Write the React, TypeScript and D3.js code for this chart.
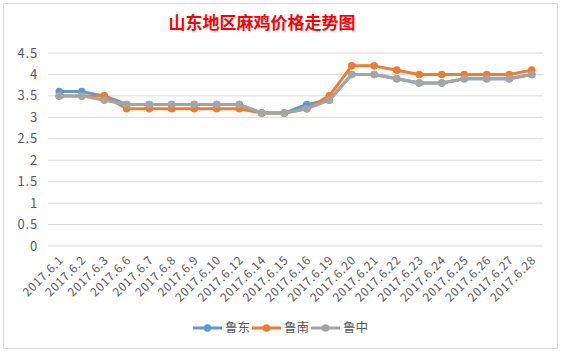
import React from "react";
import * as d3 from "d3";

// chart data
const dates = [
  "2017.6.1", "2017.6.2", "2017.6.3", "2017.6.6", "2017.6.7", "2017.6.8",
  "2017.6.9", "2017.6.10", "2017.6.12", "2017.6.14", "2017.6.15", "2017.6.16",
  "2017.6.19", "2017.6.20", "2017.6.21", "2017.6.22", "2017.6.23", "2017.6.24",
  "2017.6.25", "2017.6.26", "2017.6.27", "2017.6.28",
];
const ludong = [3.6, 3.6, 3.5, 3.3, 3.3, 3.3, 3.3, 3.3, 3.3, 3.1, 3.1, 3.3, 3.4, 4.0, 4.0, 3.9, 3.8, 3.8, 3.9, 3.9, 3.9, 4.0];
const lunan = [3.5, 3.5, 3.5, 3.2, 3.2, 3.2, 3.2, 3.2, 3.2, 3.1, 3.1, 3.2, 3.5, 4.2, 4.2, 4.1, 4.0, 4.0, 4.0, 4.0, 4.0, 4.1];
const luzhong = [3.5, 3.5, 3.4, 3.3, 3.3, 3.3, 3.3, 3.3, 3.3, 3.1, 3.1, 3.2, 3.4, 4.0, 4.0, 3.9, 3.8, 3.8, 3.9, 3.9, 3.9, 4.0];
const seriesNames = ["鲁东", "鲁南", "鲁中"];
const yTicks = [0, 0.5, 1, 1.5, 2, 2.5, 3, 3.5, 4, 4.5];

const colors = ["#5b9bd5", "#ed7d31", "#a5a5a5"];
const font = "'Noto Sans CJK SC', 'Microsoft YaHei', sans-serif";

const W = 561;
const H = 352;
const plot = { left: 48, right: 543, top: 53, bottom: 246 };

export default function App() {
  const x = d3.scaleBand<string>().domain(dates).range([plot.left, plot.right]);
  const y = d3.scaleLinear().domain([0, 4.5]).range([plot.bottom, plot.top]);
  const cx = (d: string) => (x(d) as number) + x.bandwidth() / 2;

  const line = d3
    .line<number>()
    .x((_, i) => cx(dates[i]))
    .y((v) => y(v));

  const series = [ludong, lunan, luzhong];

  // legend layout
  const legendX = [193, 252, 311];
  const legendY = 328;

  return (
    <svg
      width={W}
      height={H}
      style={{ position: "absolute", left: 0, top: 0, background: "#fff" }}
      fontFamily={font}
    >
      <rect x={3.5} y={3.5} width={554} height={345} fill="#fff" stroke="#d9d9d9" />

      <text x={262} y={29} textAnchor="middle" fill="#ff0000" fontSize={17} fontWeight={600}>
        山东地区麻鸡价格走势图
      </text>

      {/* horizontal gridlines and y labels */}
      {yTicks.map((t) => (
        <g key={t}>
          <line x1={plot.left} x2={plot.right} y1={y(t)} y2={y(t)} stroke="#d9d9d9" strokeWidth={1} />
          <text x={38} y={y(t)} dy="0.35em" textAnchor="end" fontSize={13} letterSpacing={0.8} fill="#595959">
            {t}
          </text>
        </g>
      ))}

      {/* x labels */}
      {dates.map((d) => (
        <text
          key={d}
          transform={`translate(${cx(d) + 2},${plot.bottom + 12}) rotate(-45)`}
          textAnchor="end"
          dy="0.35em"
          fontSize={12}
          letterSpacing={0.6}
          fill="#595959"
        >
          {d}
        </text>
      ))}

      {/* lines */}
      {series.map((s, k) => (
        <g key={seriesNames[k]}>
          <path d={line(s) as string} fill="none" stroke={colors[k]} strokeWidth={3} strokeLinejoin="round" />
          {s.map((v, i) => (
            <circle key={i} cx={cx(dates[i])} cy={y(v)} r={3.8} fill={colors[k]} />
          ))}
        </g>
      ))}

      {/* legend */}
      {seriesNames.map((n, k) => (
        <g key={n} transform={`translate(${legendX[k]},${legendY})`}>
          <line x1={0} x2={29} y1={0} y2={0} stroke={colors[k]} strokeWidth={3} />
          <circle cx={14.5} cy={0} r={3.8} fill={colors[k]} />
          <text x={32} y={0} dy="0.35em" fontSize={12.5} fill="#595959">
            {n}
          </text>
        </g>
      ))}
    </svg>
  );
}
